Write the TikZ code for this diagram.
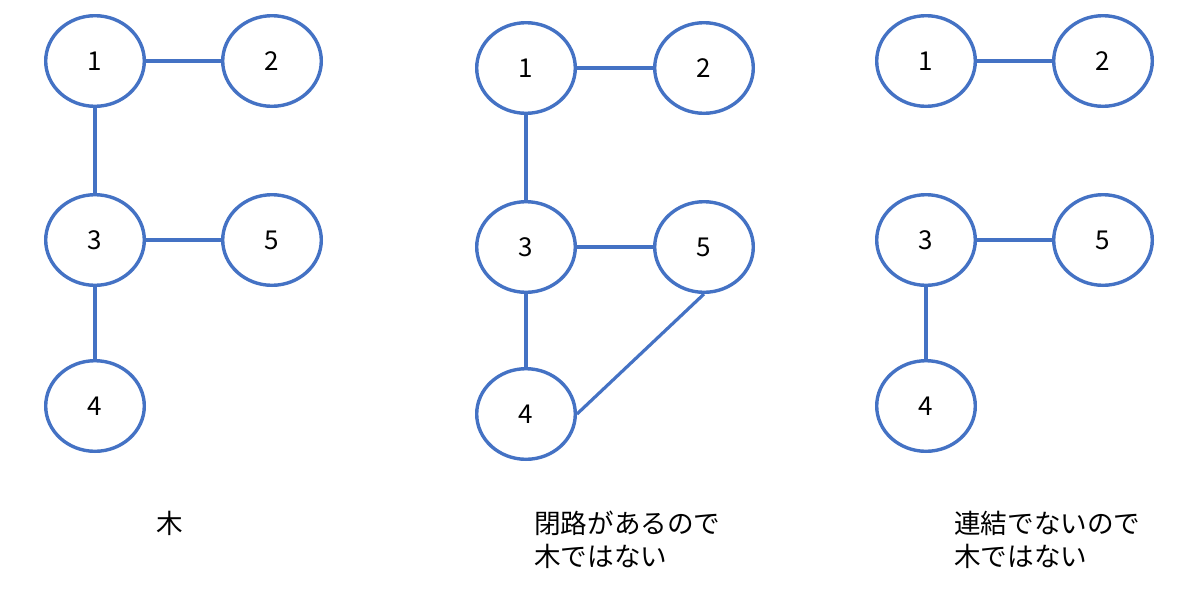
\documentclass[tikz,border=0pt]{standalone}
\usepackage{fontspec}
\setmainfont{Noto Sans CJK JP}
\usetikzlibrary{shapes.geometric}
\definecolor{officeblue}{HTML}{4472C4}
\tikzset{
  vert/.style={ellipse, draw=officeblue, line width=3.4pt, minimum width=98.6pt, minimum height=90.6pt, inner sep=0pt, font=\fontsize{26}{30}\selectfont},
  edge/.style={draw=officeblue, line width=3.2pt},
  lbl/.style={anchor=base west, inner sep=0pt, font=\fontsize{26.6}{30}\selectfont}
}
\begin{document}
\begin{tikzpicture}[x=1pt,y=-1pt]
\useasboundingbox (0,0) rectangle (1200,603);
% left
\node[vert] (a1) at (95,61) {1};
\node[vert] (a2) at (272,61) {2};
\node[vert] (a3) at (95,240) {3};
\node[vert] (a5) at (272,240) {5};
\node[vert] (a4) at (95,406) {4};
\draw[edge] (a1) -- (a2);
\draw[edge] (a1) -- (a3);
\draw[edge] (a3) -- (a5);
\draw[edge] (a3) -- (a4);
% middle
\node[vert] (b1) at (526,68) {1};
\node[vert] (b2) at (704,68) {2};
\node[vert] (b3) at (526,247) {3};
\node[vert] (b5) at (704,247) {5};
\node[vert] (b4) at (526,414) {4};
\draw[edge] (b1) -- (b2);
\draw[edge] (b1) -- (b3);
\draw[edge] (b3) -- (b5);
\draw[edge] (b3) -- (b4);
\draw[edge] (b5.south) -- (b4.east);
% right
\node[vert] (c1) at (926,61) {1};
\node[vert] (c2) at (1103,61) {2};
\node[vert] (c3) at (926,240) {3};
\node[vert] (c5) at (1103,240) {5};
\node[vert] (c4) at (926,406) {4};
\draw[edge] (c1) -- (c2);
\draw[edge] (c3) -- (c5);
\draw[edge] (c3) -- (c4);
% labels
\node[lbl] (la) at (156,533) {木};
\node[lbl] (lb1) at (534,533) {閉路があるので};
\node[lbl] (lb2) at (534,566) {木ではない};
\node[lbl] (lc1) at (954,533) {連結でないので};
\node[lbl] (lc2) at (954,566) {木ではない};
\end{tikzpicture}
\end{document}
